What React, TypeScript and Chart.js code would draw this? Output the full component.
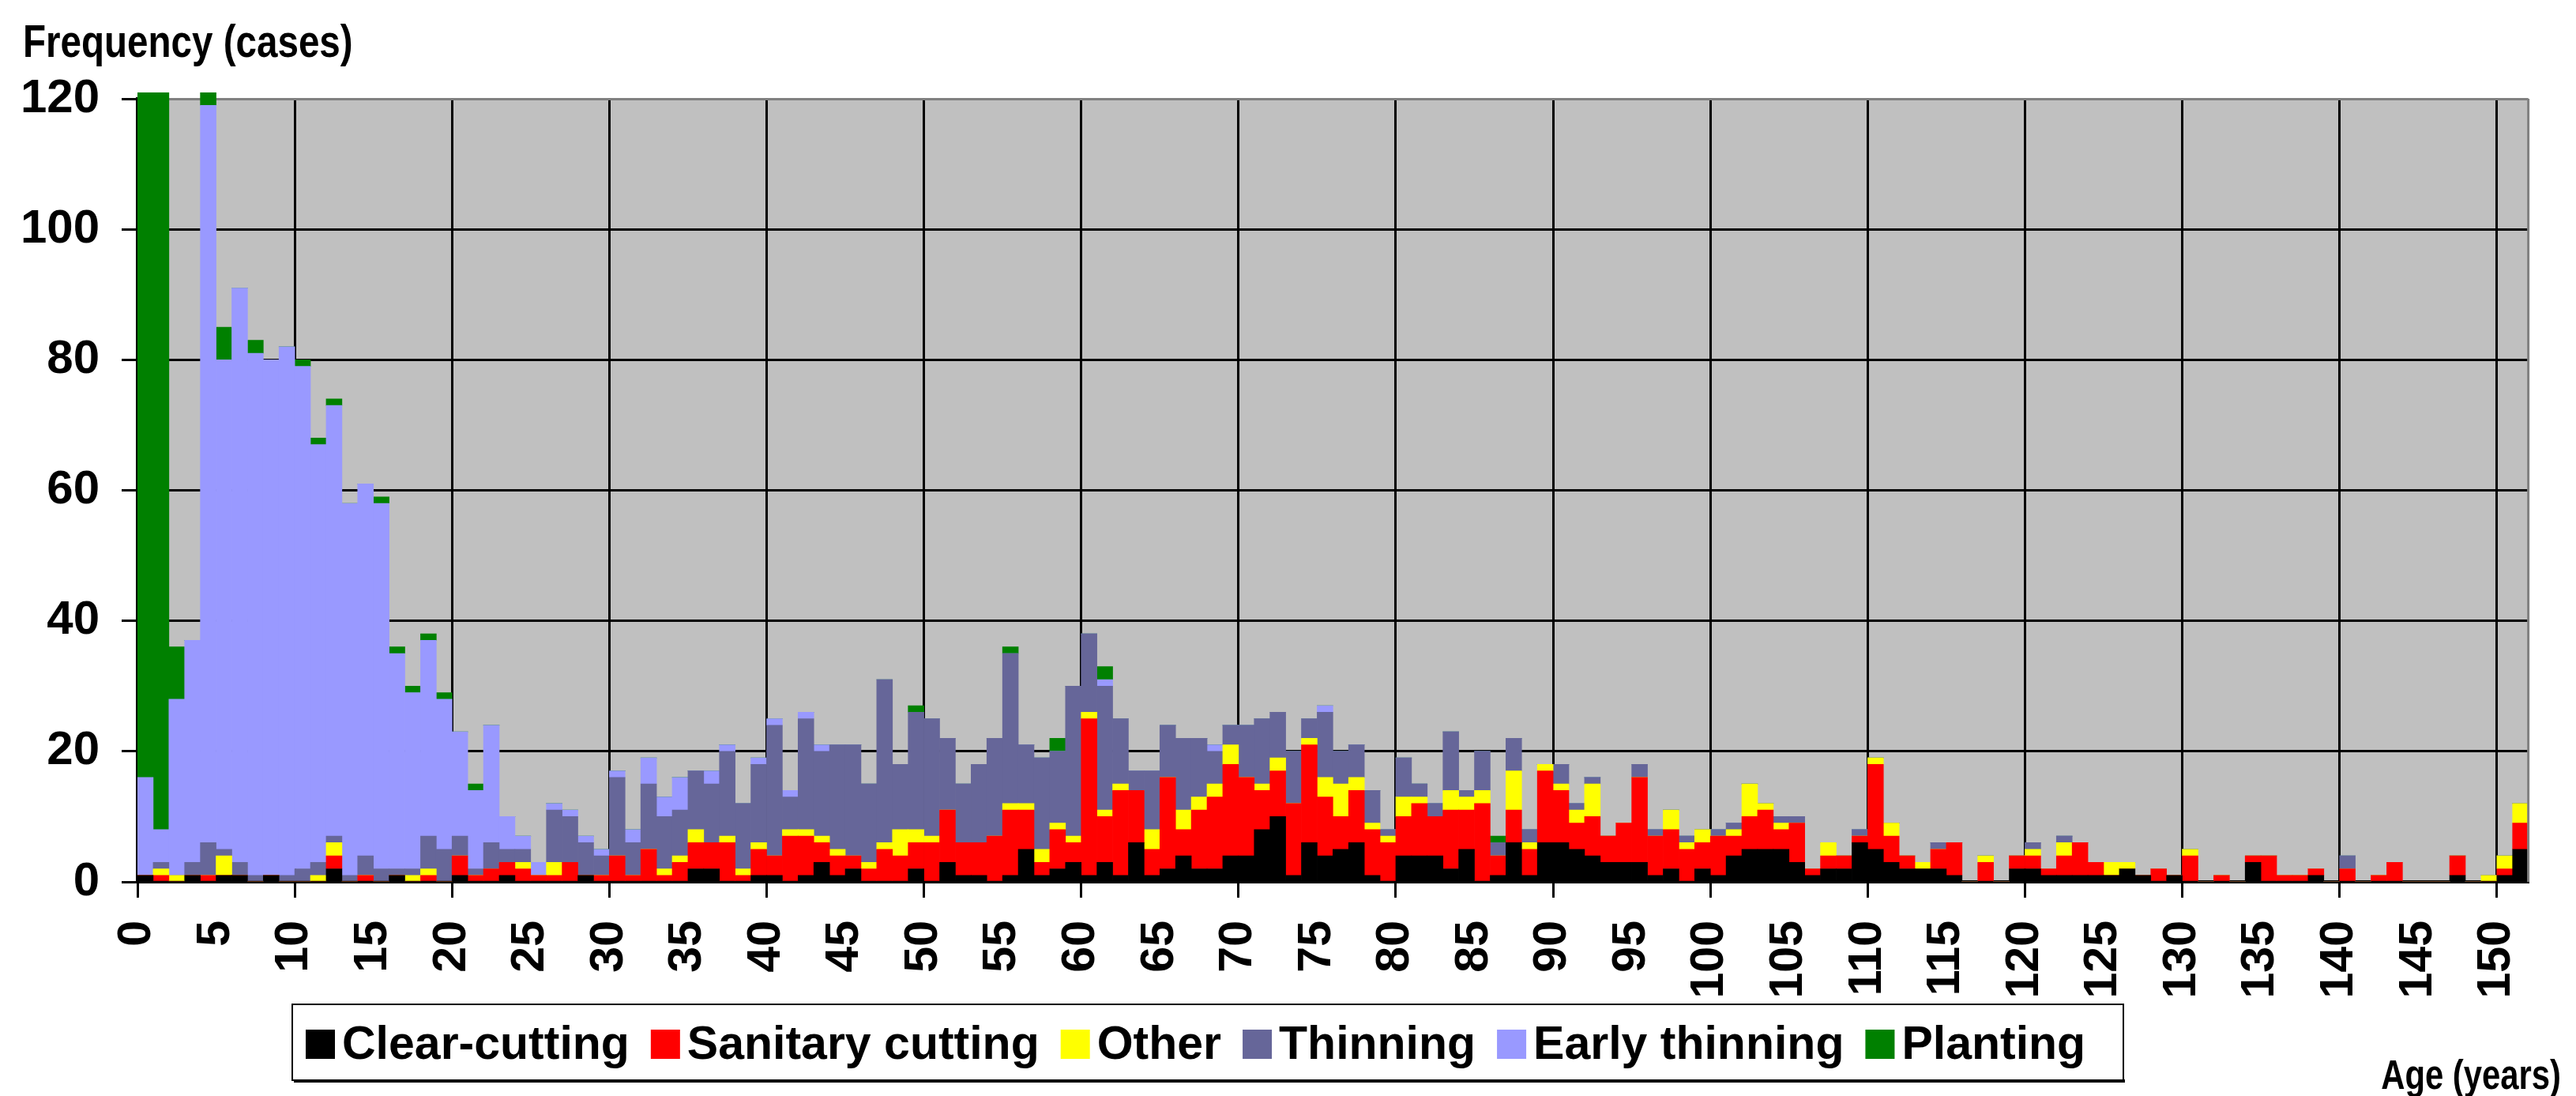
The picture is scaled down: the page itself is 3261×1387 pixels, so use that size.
import React, { useEffect, useRef } from 'react';
import { Chart, registerables } from 'chart.js';

Chart.register(...registerables);

const W = 3261;
const H = 1387;
const FONT = '"Liberation Sans", Arial, sans-serif';

// Categories: stand age in years (0..151)
const AGES: number[] = Array.from({ length: 152 }, (_, i) => i);

const CLEAR_CUTTING: number[] = [
  1, 0, 0, 1, 0, 1, 1, 0, 1, 0,
  0, 0, 2, 0, 0, 0, 1, 0, 0, 0,
  1, 0, 0, 1, 0, 0, 0, 0, 1, 0,
  0, 0, 0, 0, 0, 2, 2, 0, 0, 1,
  1, 0, 1, 3, 1, 2, 0, 0, 0, 2,
  0, 3, 1, 1, 0, 1, 5, 1, 2, 3,
  1, 3, 1, 6, 1, 2, 4, 2, 2, 4,
  4, 8, 10, 1, 6, 4, 5, 6, 1, 0,
  4, 4, 4, 2, 5, 0, 1, 6, 1, 6,
  6, 5, 4, 3, 3, 3, 1, 2, 0, 2,
  1, 4, 5, 5, 5, 3, 1, 2, 2, 6,
  5, 3, 2, 2, 2, 1, 0, 0, 0, 2,
  2, 1, 1, 1, 1, 1, 2, 1, 0, 1,
  0, 0, 0, 0, 3, 0, 0, 0, 1, 0,
  0, 0, 0, 0, 0, 0, 0, 1, 0, 0,
  1, 5,
];

const SANITARY_CUTTING: number[] = [
  0, 1, 0, 0, 1, 0, 0, 0, 0, 0,
  0, 0, 2, 0, 1, 0, 0, 0, 1, 0,
  3, 1, 2, 2, 2, 1, 1, 3, 0, 1,
  4, 1, 5, 1, 3, 4, 4, 6, 1, 4,
  3, 7, 6, 3, 3, 2, 2, 5, 4, 4,
  6, 8, 5, 5, 7, 10, 6, 2, 6, 3,
  24, 7, 13, 8, 4, 14, 4, 9, 11, 14,
  12, 6, 7, 11, 15, 9, 5, 8, 7, 6,
  6, 8, 6, 9, 6, 12, 3, 5, 4, 11,
  8, 4, 6, 4, 6, 13, 6, 6, 5, 4,
  6, 3, 5, 6, 3, 6, 1, 2, 2, 1,
  13, 4, 2, 0, 3, 5, 0, 3, 0, 2,
  2, 1, 3, 5, 2, 0, 0, 0, 2, 0,
  4, 0, 1, 0, 1, 4, 1, 1, 1, 0,
  2, 0, 1, 3, 0, 0, 0, 3, 0, 0,
  1, 4,
];

const OTHER: number[] = [
  0, 1, 1, 0, 0, 3, 0, 0, 0, 0,
  0, 1, 2, 0, 0, 0, 0, 1, 1, 0,
  0, 0, 0, 0, 1, 0, 2, 0, 0, 0,
  0, 0, 0, 1, 1, 2, 0, 1, 1, 1,
  0, 1, 1, 1, 1, 0, 1, 1, 4, 2,
  1, 0, 0, 0, 0, 1, 1, 2, 1, 1,
  1, 1, 1, 0, 3, 0, 3, 2, 2, 3,
  0, 1, 2, 0, 1, 3, 5, 2, 1, 1,
  3, 1, 0, 3, 2, 2, 0, 6, 1, 1,
  1, 2, 5, 0, 0, 0, 0, 3, 1, 2,
  0, 1, 5, 1, 1, 0, 0, 2, 0, 0,
  1, 2, 0, 1, 0, 0, 0, 1, 0, 0,
  1, 0, 2, 0, 0, 2, 1, 0, 0, 0,
  1, 0, 0, 0, 0, 0, 0, 0, 0, 0,
  0, 0, 0, 0, 0, 0, 0, 0, 0, 1,
  2, 3,
];

const THINNING: number[] = [
  0, 1, 0, 2, 5, 1, 2, 1, 0, 1,
  2, 2, 1, 1, 3, 2, 1, 1, 5, 5,
  3, 1, 4, 2, 2, 0, 8, 7, 5, 3,
  12, 5, 10, 8, 7, 9, 9, 13, 10, 12,
  20, 5, 17, 13, 16, 17, 12, 25, 10, 18,
  18, 11, 9, 12, 15, 23, 9, 14, 11, 23,
  12, 19, 10, 3, 9, 8, 11, 9, 5, 3,
  8, 10, 7, 8, 3, 10, 5, 5, 5, 1,
  6, 2, 2, 9, 1, 6, 2, 5, 2, 0,
  3, 1, 1, 0, 0, 2, 1, 0, 1, 0,
  1, 1, 0, 0, 1, 1, 0, 0, 0, 1,
  0, 0, 0, 0, 1, 0, 0, 0, 0, 0,
  1, 0, 1, 0, 0, 0, 0, 0, 0, 0,
  0, 0, 0, 0, 0, 0, 0, 0, 0, 0,
  2, 0, 0, 0, 0, 0, 0, 0, 0, 0,
  0, 0,
];

const EARLY_THINNING: number[] = [
  15, 5, 27, 34, 113, 75, 88, 80, 79, 81,
  77, 64, 66, 57, 57, 56, 33, 27, 30, 23,
  16, 12, 18, 5, 2, 2, 1, 1, 1, 1,
  1, 2, 4, 3, 5, 0, 2, 1, 0, 1,
  1, 1, 1, 1, 0, 0, 0, 0, 0, 0,
  0, 0, 0, 0, 0, 0, 0, 0, 0, 0,
  0, 1, 0, 0, 0, 0, 0, 0, 1, 0,
  0, 0, 0, 0, 0, 1, 0, 0, 0, 0,
  0, 0, 0, 0, 0, 0, 0, 0, 0, 0,
  0, 0, 0, 0, 0, 0, 0, 0, 0, 0,
  0, 0, 0, 0, 0, 0, 0, 0, 0, 0,
  0, 0, 0, 0, 0, 0, 0, 0, 0, 0,
  0, 0, 0, 0, 0, 0, 0, 0, 0, 0,
  0, 0, 0, 0, 0, 0, 0, 0, 0, 0,
  0, 0, 0, 0, 0, 0, 0, 0, 0, 0,
  0, 0,
];

const PLANTING: number[] = [
  140, 130, 8, 0, 2, 5, 0, 2, 0, 0,
  1, 1, 1, 0, 0, 1, 1, 1, 1, 1,
  0, 1, 0, 0, 0, 0, 0, 0, 0, 0,
  0, 0, 0, 0, 0, 0, 0, 0, 0, 0,
  0, 0, 0, 0, 0, 0, 0, 0, 0, 1,
  0, 0, 0, 0, 0, 1, 0, 0, 2, 0,
  0, 2, 0, 0, 0, 0, 0, 0, 0, 0,
  0, 0, 0, 0, 0, 0, 0, 0, 0, 0,
  0, 0, 0, 0, 0, 0, 1, 0, 0, 0,
  0, 0, 0, 0, 0, 0, 0, 0, 0, 0,
  0, 0, 0, 0, 0, 0, 0, 0, 0, 0,
  0, 0, 0, 0, 0, 0, 0, 0, 0, 0,
  0, 0, 0, 0, 0, 0, 0, 0, 0, 0,
  0, 0, 0, 0, 0, 0, 0, 0, 0, 0,
  0, 0, 0, 0, 0, 0, 0, 0, 0, 0,
  0, 0,
];

const SERIES_LABELS = ['Clear-cutting', 'Sanitary cutting', 'Other', 'Thinning', 'Early thinning', 'Planting'];
const SERIES_COLORS = ['#000000', '#FF0000', '#FFFF00', '#666699', '#9999FF', '#008000'];
const SERIES_VALUES = [CLEAR_CUTTING, SANITARY_CUTTING, OTHER, THINNING, EARLY_THINNING, PLANTING];

const Y_TITLE = 'Frequency (cases)';
const X_TITLE = 'Age (years)';

const decorPlugin = {
  id: 'decor',
  beforeDraw(chart: any) {
    const { ctx, chartArea: a } = chart;
    ctx.save();
    ctx.fillStyle = '#FFFFFF';
    ctx.fillRect(0, 0, chart.width, chart.height);
    ctx.fillStyle = '#C0C0C0';
    ctx.fillRect(a.left, a.top, a.right - a.left, a.bottom - a.top);
    ctx.restore();
  },
  afterDatasetsDraw(chart: any) {
    const { ctx, chartArea: a } = chart;
    ctx.save();
    ctx.strokeStyle = '#808080';
    ctx.lineWidth = 3;
    ctx.beginPath();
    ctx.moveTo(a.right, a.top);
    ctx.lineTo(a.right, a.bottom);
    ctx.stroke();
    ctx.restore();
  },
  afterDraw(chart: any) {
    const ctx = chart.ctx;
    ctx.save();
    ctx.fillStyle = '#000';
    ctx.textBaseline = 'alphabetic';
    ctx.textAlign = 'left';

    // Y axis title (narrow bold)
    ctx.save();
    ctx.translate(29, 72);
    ctx.scale(0.82, 1);
    ctx.font = `bold 58px ${FONT}`;
    ctx.fillText(Y_TITLE, 0, 0);
    ctx.restore();

    // X axis title (narrow bold)
    ctx.save();
    ctx.translate(3242, 1378);
    ctx.scale(0.82, 1);
    ctx.font = `bold 51px ${FONT}`;
    ctx.textAlign = 'right';
    ctx.fillText(X_TITLE, 0, 0);
    ctx.restore();

    // Legend box
    ctx.fillStyle = '#000';
    ctx.fillRect(372, 1366, 2318, 4);
    ctx.fillStyle = '#FFFFFF';
    ctx.fillRect(370, 1271, 2318, 96);
    ctx.strokeStyle = '#000';
    ctx.lineWidth = 2;
    ctx.strokeRect(370, 1271, 2318, 96);

    ctx.font = `bold 59px ${FONT}`;
    let x = 387;
    chart.data.datasets.forEach((ds: any) => {
      ctx.fillStyle = ds.backgroundColor;
      ctx.fillRect(x, 1303, 37, 37);
      ctx.fillStyle = '#000';
      ctx.fillText(ds.label, x + 46, 1340);
      x += 46 + ctx.measureText(ds.label).width + 27;
    });
    ctx.restore();
  },
};

export default function App() {
  const ref = useRef<HTMLCanvasElement | null>(null);

  useEffect(() => {
    if (!ref.current) return;
    const datasets = SERIES_LABELS.map((label, s) => ({
      label,
      data: SERIES_VALUES[s].map((v, i) => ({ x: AGES[i] + 0.5, y: v })),
      backgroundColor: SERIES_COLORS[s],
      borderWidth: 0,
      barPercentage: 1,
      categoryPercentage: 1,
      clip: { left: 0, top: 8, right: 0, bottom: 0 },
    }));

    const chart = new Chart(ref.current, {
      type: 'bar',
      data: { datasets } as any,
      options: {
        responsive: false,
        maintainAspectRatio: false,
        animation: false,
        devicePixelRatio: 1,
        layout: { padding: { left: 0, top: 125, right: 30, bottom: 0 } },
        plugins: {
          legend: { display: false },
          tooltip: { enabled: false },
          title: { display: false },
        },
        scales: {
          x: {
            type: 'linear',
            stacked: true,
            min: 0,
            max: 152,
            offset: false,
            ticks: {
              stepSize: 5,
              includeBounds: false,
              autoSkip: false,
              minRotation: 90,
              maxRotation: 90,
              padding: 29,
              color: '#000',
              font: { family: FONT, size: 59, weight: 'bold' },
              callback: (v: any) => String(v),
            },
            grid: {
              offset: false,
              color: (c: any) => (c.tick && c.tick.value % 10 === 0 ? '#000' : 'rgba(0,0,0,0)'),
              tickColor: (c: any) => (c.tick && c.tick.value % 10 === 0 ? '#000' : 'rgba(0,0,0,0)'),
              lineWidth: 3,
              tickLength: 20,
              tickWidth: 3,
            },
            border: { display: true, color: '#000', width: 4 },
            afterFit: (s: any) => {
              s.height = H - 1116;
            },
          },
          y: {
            stacked: true,
            min: 0,
            max: 120,
            ticks: {
              stepSize: 20,
              padding: 28,
              color: '#000',
              font: { family: FONT, size: 60, weight: 'bold' },
            },
            grid: {
              color: (c: any) => (c.tick && c.tick.value === 120 ? '#808080' : '#000'),
              tickColor: '#000',
              lineWidth: 3,
              tickLength: 20,
              tickWidth: 3,
            },
            border: { display: true, color: '#000', width: 4 },
            afterFit: (s: any) => {
              s.width = 174;
            },
          },
        },
      } as any,
      plugins: [decorPlugin],
    });
    return () => chart.destroy();
  }, []);

  return (
    <div style={{ position: 'fixed', left: 0, top: 0, width: W, height: H, background: '#fff' }}>
      <canvas ref={ref} width={W} height={H} style={{ display: 'block', width: W, height: H }} />
    </div>
  );
}
